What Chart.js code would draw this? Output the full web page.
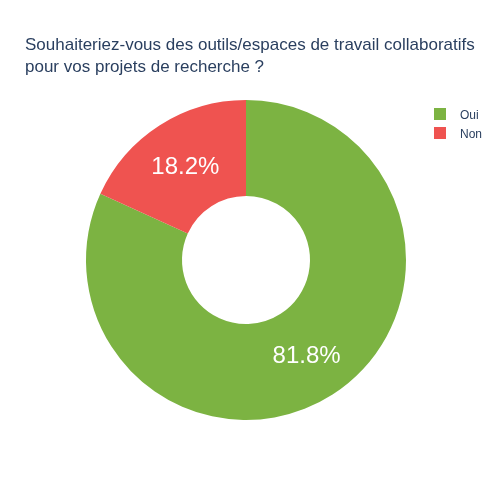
<!DOCTYPE html>
<html>
<head>
<meta charset="utf-8">
<script src="https://cdn.jsdelivr.net/npm/chart.js@4"></script>
<style>
html,body{margin:0;padding:0;background:#fff;}
#wrap{width:500px;height:500px;position:relative;}
</style>
</head>
<body>
<div id="wrap"><canvas id="c" width="500" height="500"></canvas></div>
<script>
const titleLines = ["Souhaiteriez-vous des outils/espaces de travail collaboratifs", "pour vos projets de recherche ?"];
const categories = ["Oui", "Non"];
const values = [81.8, 18.2];
const colors = ["#7cb342", "#ef5350"];
const FONT = '"Liberation Sans", Arial, sans-serif';
const TEXT_COLOR = '#2a3f5f';

const overlay = {
  id: 'overlay',
  afterDraw(chart) {
    const ctx = chart.ctx;
    ctx.save();
    // title
    ctx.fillStyle = TEXT_COLOR;
    ctx.font = '17px ' + FONT;
    ctx.textAlign = 'left';
    ctx.textBaseline = 'alphabetic';
    titleLines.forEach((t, i) => ctx.fillText(t, 25, 50 + i * 22));
    // slice labels
    const meta = chart.getDatasetMeta(0);
    const total = values.reduce((a, b) => a + b, 0);
    ctx.fillStyle = '#ffffff';
    ctx.font = '24px ' + FONT;
    ctx.textAlign = 'center';
    meta.data.forEach((arc, i) => {
      const p = arc.getCenterPoint();
      ctx.fillText((values[i] / total * 100).toFixed(1) + '%', p.x, p.y + 8.5);
    });
    // legend
    ctx.font = '12px ' + FONT;
    ctx.textAlign = 'left';
    categories.forEach((c, i) => {
      const y = 108 + i * 19;
      ctx.fillStyle = colors[i];
      ctx.fillRect(434, y, 12, 12);
      ctx.fillStyle = TEXT_COLOR;
      ctx.fillText(c, 460, y + 10.8);
    });
    ctx.restore();
  }
};

new Chart(document.getElementById('c'), {
  type: 'doughnut',
  data: {
    labels: categories,
    datasets: [{
      data: values,
      backgroundColor: colors,
      borderWidth: 0
    }]
  },
  options: {
    responsive: false,
    animation: false,
    cutout: '40%',
    layout: { padding: { top: 100, bottom: 80, left: 86, right: 94 } },
    plugins: {
      legend: { display: false },
      title: { display: false },
      tooltip: { enabled: false }
    }
  },
  plugins: [overlay]
});
</script>
</body>
</html>
